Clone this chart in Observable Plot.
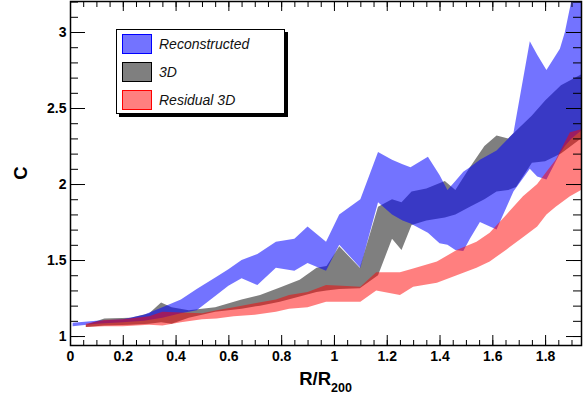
<!DOCTYPE html>
<html><head><meta charset="utf-8">
<script src="https://cdn.jsdelivr.net/npm/d3@7"></script>
<script src="https://cdn.jsdelivr.net/npm/@observablehq/plot@0.6"></script>
<style>
body{margin:0;background:#fff;}
#wrap{position:relative;width:584px;height:398px;font-family:"Liberation Sans",Arial,Helvetica,sans-serif;}
#legend{position:absolute;left:116px;top:29px;width:169px;height:85px;border:1px solid #000;box-shadow:3px 3px 0 #000;background:#fff;box-sizing:border-box;}
.row{position:absolute;left:5px;height:20px;width:150px;}
.sw{position:absolute;left:0;top:0;width:30px;height:20px;box-sizing:border-box;}
.lab{position:absolute;left:37px;top:0;font-style:italic;font-size:14px;line-height:20px;white-space:nowrap;color:#111;}
</style></head>
<body><div id="wrap"></div>
<script>
// Reconstructed (blue band)
const reconX  = [0.01,0.10,0.20,0.28,0.35,0.42,0.48,0.555,0.60,0.65,0.71,0.78,0.85,0.90,0.97,1.02,1.10,1.167,1.22,1.26,1.29,1.356,1.40,1.43,1.46,1.49,1.515,1.553,1.616,1.68,1.742,1.77,1.805,1.856,1.875,1.90,1.936];
const reconLo = [1.065,1.08,1.09,1.10,1.12,1.15,1.17,1.27,1.33,1.38,1.335,1.45,1.43,1.48,1.43,1.60,1.45,1.88,1.80,1.76,1.74,1.68,1.61,1.60,1.566,1.56,1.64,1.75,1.70,1.95,2.10,2.05,2.03,2.20,2.25,2.30,2.35];
const reconHi = [1.088,1.10,1.11,1.14,1.19,1.24,1.31,1.39,1.44,1.50,1.54,1.62,1.64,1.72,1.62,1.80,1.90,2.21,2.16,2.13,2.11,2.18,2.06,1.96,2.02,2.08,2.11,2.16,2.22,2.335,2.94,2.85,2.75,2.89,3.00,3.21,3.45];
// 3D (black band)
const d3X  = [0.06,0.13,0.23,0.30,0.345,0.385,0.45,0.55,0.65,0.72,0.795,0.87,0.934,0.972,1.02,1.098,1.167,1.22,1.256,1.294,1.35,1.42,1.46,1.515,1.57,1.616,1.66,1.69,1.75,1.80,1.86,1.936];
const d3Lo = [1.06,1.07,1.075,1.08,1.09,1.08,1.12,1.16,1.18,1.20,1.225,1.26,1.29,1.30,1.31,1.315,1.40,1.64,1.566,1.73,1.76,1.78,1.80,1.85,1.90,1.95,1.96,1.98,2.14,2.15,2.20,2.30];
const d3Hi = [1.075,1.115,1.12,1.15,1.22,1.19,1.17,1.19,1.24,1.27,1.32,1.37,1.45,1.46,1.59,1.45,1.85,1.90,1.88,1.95,1.97,2.02,1.96,2.11,2.25,2.32,2.30,2.35,2.45,2.55,2.65,2.72];
// Residual 3D (red band)
const resX  = [0.06,0.13,0.20,0.30,0.35,0.42,0.50,0.555,0.62,0.70,0.78,0.83,0.90,0.97,1.03,1.10,1.16,1.25,1.30,1.39,1.465,1.54,1.59,1.654,1.716,1.77,1.805,1.84,1.894,1.936];
const resLo = [1.06,1.065,1.065,1.075,1.07,1.09,1.11,1.115,1.13,1.14,1.16,1.18,1.19,1.225,1.225,1.225,1.30,1.27,1.325,1.35,1.40,1.45,1.49,1.57,1.65,1.72,1.80,1.85,1.92,1.96];
const resHi = [1.08,1.105,1.11,1.13,1.16,1.155,1.15,1.17,1.19,1.215,1.24,1.27,1.29,1.335,1.33,1.325,1.42,1.42,1.445,1.49,1.566,1.62,1.68,1.80,1.92,2.00,2.08,2.16,2.34,2.36];

const xMajor = [0,0.2,0.4,0.6,0.8,1,1.2,1.4,1.6,1.8];
const xLabels = ["0","0.2","0.4","0.6","0.8","1","1.2","1.4","1.6","1.8"];
const yMajor = [1,1.5,2,2.5,3];
const yLabels = ["1","1.5","2","2.5","3"];
const xMinor = d3.range(0, 1.93, 0.05);
const yMinor = d3.range(1, 3.21, 0.1);

const series = [
  {name:"Reconstructed", color:"#0000ff", X:reconX, lo:reconLo, hi:reconHi, op:0.55},
  {name:"3D", color:"#000000", X:d3X, lo:d3Lo, hi:d3Hi, op:0.5},
  {name:"Residual 3D", color:"#ff0000", X:resX, lo:resLo, hi:resHi, op:0.5}
];
const rows = s => s.X.map((x,i)=>({x, lo:s.lo[i], hi:s.hi[i]}));
const drawOrder = [series[1], series[0], series[2]];

const font = '"Liberation Sans",Arial,Helvetica,sans-serif';
const fmtX = d => xLabels[xMajor.indexOf(d)];
const fmtY = d => yLabels[yMajor.indexOf(d)];
const blank = () => "";

const plot = Plot.plot({
  width: 584, height: 398,
  marginLeft: 70, marginRight: 3, marginTop: 1, marginBottom: 53,
  x: {domain: [0, 1.936]},
  y: {domain: [0.941, 3.204]},
  style: {fontFamily: font, fontSize: "14px", background: "white", color: "black", overflow: "visible"},
  marks: [
    ...drawOrder.map(s => Plot.areaY(rows(s), {x:"x", y1:"lo", y2:"hi", fill:s.color, fillOpacity:s.op, clip:true, curve:"linear"})),
    Plot.axisX(xMajor, {anchor:"bottom", tickSize:-10, tickPadding:16, tickFormat:fmtX, fontWeight:"bold", fontSize:14, label:null}),
    Plot.axisX(xMinor, {anchor:"bottom", tickSize:-5, tickFormat:blank, label:null}),
    Plot.axisX(xMajor, {anchor:"top", tickSize:-9, tickFormat:blank, label:null}),
    Plot.axisX(xMinor, {anchor:"top", tickSize:-5, tickFormat:blank, label:null}),
    Plot.axisY(yMajor, {anchor:"left", tickSize:-15, tickPadding:19, tickFormat:fmtY, fontWeight:"bold", fontSize:14, label:null}),
    Plot.axisY(yMinor, {anchor:"left", tickSize:-8, tickFormat:blank, label:null}),
    Plot.axisY(yMajor, {anchor:"right", tickSize:-16, tickFormat:blank, label:null}),
    Plot.axisY(yMinor, {anchor:"right", tickSize:-9, tickFormat:blank, label:null}),
    Plot.frame({stroke:"black", strokeWidth:1.5})
  ]
});

const wrap = document.getElementById("wrap");
wrap.appendChild(plot);

// axis titles
const svg = d3.select(plot);
const xs = plot.scale("x"), ys = plot.scale("y");
const cx = (xs.range[0] + xs.range[1]) / 2;
const cy = (ys.range[0] + ys.range[1]) / 2;
const xt = svg.append("text").attr("x", cx).attr("y", 385).attr("text-anchor","middle")
  .attr("font-family", font).attr("font-weight","bold").attr("font-size", 18.5).attr("fill","black");
xt.append("tspan").text("R/R");
xt.append("tspan").attr("dy", 6.5).attr("font-size", 12.5).text("200");
svg.append("text").attr("transform", `translate(27,${cy}) rotate(-90)`).attr("text-anchor","middle")
  .attr("font-family", font).attr("font-weight","bold").attr("font-size", 18.5).attr("fill","black").text("C");

// legend
const leg = document.createElement("div");
leg.id = "legend";
series.forEach((s,i)=>{
  const r = document.createElement("div");
  r.className = "row";
  r.style.top = (4 + i*28) + "px";
  const sw = document.createElement("div");
  sw.className = "sw";
  const c = d3.color(s.color); c.opacity = s.op;
  sw.style.background = c.formatRgb();
  sw.style.border = "1px solid " + s.color;
  const lb = document.createElement("div");
  lb.className = "lab";
  lb.textContent = s.name;
  r.appendChild(sw); r.appendChild(lb);
  leg.appendChild(r);
});
wrap.appendChild(leg);
</script>
</body></html>
